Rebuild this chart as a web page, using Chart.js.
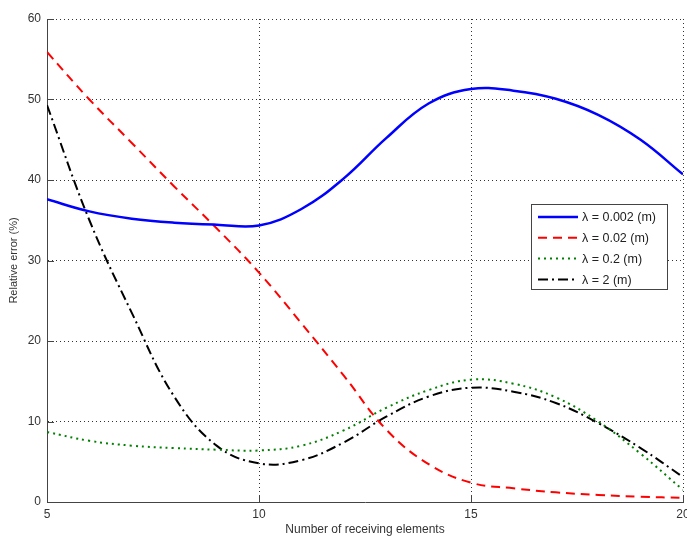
<!DOCTYPE html>
<html>
<head>
<meta charset="utf-8">
<script src="https://cdn.jsdelivr.net/npm/chart.js@4/dist/chart.umd.min.js"></script>
<style>
  html, body { margin: 0; padding: 0; background: #fff; }
  #wrap { width: 687px; height: 538px; }
</style>
</head>
<body>
<div id="wrap"><canvas id="grafico"></canvas></div>
<script>
const elementos = [5, 6, 7, 8, 9, 10, 11, 12, 13, 14, 15, 16, 17, 18, 19, 20]
const lambda0002 = [37.6, 36.1, 35.2, 34.7, 34.45, 34.35, 36.4, 40.2, 45.2, 49.5, 51.3, 51.1, 50.1, 48.1, 45.0, 40.7]
const lambda002 = [55.9, 50.0, 44.6, 39.2, 34.0, 28.5, 22.2, 15.7, 9.0, 4.7, 2.4, 1.7, 1.2, 0.87, 0.66, 0.5]
const lambda02 = [8.7, 7.6, 7.0, 6.7, 6.5, 6.4, 7.0, 8.9, 11.7, 13.9, 15.2, 14.7, 13.0, 10.0, 6.0, 1.5]
const lambda2 = [49.3, 35.0, 23.5, 13.1, 7.0, 4.8, 5.2, 7.4, 10.6, 13.1, 14.2, 13.7, 12.3, 9.8, 6.7, 3.1]
const etiquetas = ["\u03bb = 0.002 (m)", "\u03bb = 0.02 (m)", "\u03bb = 0.2 (m)", "\u03bb = 2 (m)"]

const fuente = "'Liberation Sans', Arial, sans-serif"

const puntos = (valores) => elementos.map((x, i) => ({ x: x, y: valores[i] }))

const serie = (label, valores, color, dash, ancho) => ({
  label: label,
  data: puntos(valores),
  borderColor: color,
  backgroundColor: color,
  borderDash: dash,
  borderWidth: ancho,
  pointRadius: 0,
  fill: false,
  tension: 0.4
})

// ticks hacia adentro como en matlab
const ticksAdentro = {
  id: "ticksAdentro",
  afterDraw(chart) {
    const ctx = chart.ctx
    const area = chart.chartArea
    const sx = chart.scales.x
    const sy = chart.scales.y
    ctx.save()
    ctx.strokeStyle = "#444"
    ctx.lineWidth = 1
    ctx.beginPath()
    sx.ticks.forEach(t => {
      const px = Math.round(sx.getPixelForValue(t.value)) + 0.5
      ctx.moveTo(px, area.bottom)
      ctx.lineTo(px, area.bottom - 7)
    })
    sy.ticks.forEach(t => {
      const py = Math.round(sy.getPixelForValue(t.value)) + 0.5
      ctx.moveTo(area.left, py)
      ctx.lineTo(area.left + 7, py)
    })
    ctx.stroke()
    ctx.restore()
  }
}

// leyenda dentro del area, con caja
const leyendaCaja = {
  id: "leyendaCaja",
  afterDraw(chart) {
    const ctx = chart.ctx
    const area = chart.chartArea
    const ancho = 136
    const alto = 85
    const x0 = area.right - 16 - ancho
    const y0 = area.top + 185
    ctx.save()
    ctx.fillStyle = "#fff"
    ctx.fillRect(x0, y0, ancho, alto)
    ctx.strokeStyle = "#444"
    ctx.lineWidth = 1
    ctx.setLineDash([])
    ctx.strokeRect(x0 + 0.5, y0 + 0.5, ancho, alto)
    ctx.font = "12.5px " + fuente
    ctx.textBaseline = "middle"
    ctx.textAlign = "left"
    chart.data.datasets.forEach((ds, i) => {
      const yy = y0 + 13 + i * 20.8
      ctx.strokeStyle = ds.borderColor
      ctx.lineWidth = ds.borderWidth
      ctx.setLineDash(ds.borderDash)
      ctx.beginPath()
      ctx.moveTo(x0 + 7, yy)
      ctx.lineTo(x0 + 47, yy)
      ctx.stroke()
      ctx.setLineDash([])
      ctx.fillStyle = "#222"
      ctx.fillText(ds.label, x0 + 51, yy + 1)
    })
    ctx.restore()
  }
}

const data = {
  datasets: [
    serie(etiquetas[0], lambda0002, "#0000ff", [], 2.5),
    serie(etiquetas[1], lambda002, "#ff0000", [9, 6], 2),
    serie(etiquetas[2], lambda02, "#008000", [2, 4], 2),
    serie(etiquetas[3], lambda2, "#000000", [10, 4, 2, 4], 2)
  ]
}

const config = {
  type: "line",
  data: data,
  options: {
    responsive: true,
    maintainAspectRatio: false,
    animation: false,
    layout: { padding: { top: 19, right: 4, left: 0, bottom: 0 } },
    plugins: {
      legend: { display: false },
      tooltip: { enabled: false }
    },
    scales: {
      x: {
        type: "linear",
        min: 5,
        max: 20,
        ticks: { stepSize: 5, color: "#333", padding: 5, font: { family: fuente, size: 12 }, maxRotation: 0 },
        grid: { color: "#333", lineWidth: 1, drawTicks: false },
        border: { display: true, color: "#444", width: 1, dash: [1, 3] },
        title: { display: true, text: "Number of receiving elements", color: "#333", font: { family: fuente, size: 12 }, padding: { top: 0, bottom: 1 } },
        afterFit: (s) => { s.height = 36; s.paddingRight = 0 }
      },
      y: {
        min: 0,
        max: 60,
        ticks: { stepSize: 10, color: "#333", padding: 6, font: { family: fuente, size: 12 } },
        grid: { color: "#333", lineWidth: 1, drawTicks: false },
        border: { display: true, color: "#444", width: 1, dash: [1, 3] },
        title: { display: true, text: "Relative error (%)", color: "#333", font: { family: fuente, size: 11 }, padding: { top: 7, bottom: 0 } },
        afterFit: (s) => { s.width = 47 }
      }
    }
  },
  plugins: [ticksAdentro, leyendaCaja]
}

const miGrafico = new Chart(document.getElementById("grafico"), config)
</script>
</body>
</html>
